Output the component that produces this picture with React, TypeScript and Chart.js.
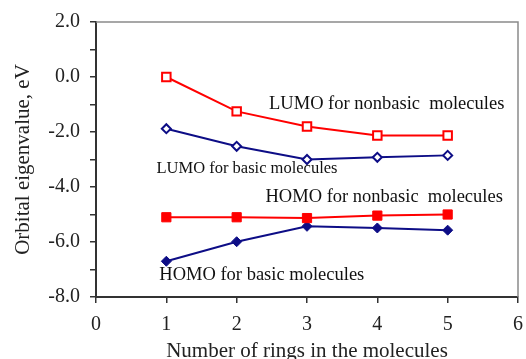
import React, { useEffect, useRef } from 'react';
import { Chart, registerables } from 'chart.js';

Chart.register(...registerables);

// Data
const rings = [1, 2, 3, 4, 5];
const lumoNonbasic = [0.0, -1.25, -1.8, -2.13, -2.13];
const lumoBasic = [-1.88, -2.52, -3.0, -2.92, -2.85];
const homoNonbasic = [-5.1, -5.1, -5.13, -5.04, -5.0];
const homoBasic = [-6.7, -5.99, -5.43, -5.49, -5.57];

const xTitle = 'Number of rings in the molecules';
const yTitle = 'Orbital eigenvalue, eV';

// Curve labels, anchored in data units (left edge, vertical middle)
const curveLabels = ['LUMO for nonbasic  molecules', 'LUMO for basic molecules', 'HOMO for nonbasic  molecules', 'HOMO for basic molecules'];
const curveLabelX = [2.46, 0.86, 2.41, 0.9];
const curveLabelY = [-0.98, -3.32, -4.37, -7.21];
const curveLabelSize = [18.5, 16.5, 18.5, 18.5];

const SERIF = '"Liberation Serif", "Times New Roman", serif';
const RED = '#ff0000';
const NAVY = '#0d0d86';

const overlayPlugin = {
  id: 'overlay',
  afterDatasetsDraw(chart: any) {
    const { ctx, chartArea, scales } = chart;
    ctx.save();
    // top / right frame
    ctx.strokeStyle = '#8a8a8a';
    ctx.lineWidth = 1.5;
    ctx.beginPath();
    ctx.moveTo(chartArea.left, chartArea.top);
    ctx.lineTo(chartArea.right, chartArea.top);
    ctx.lineTo(chartArea.right, chartArea.bottom);
    ctx.stroke();
    // curve labels
    ctx.fillStyle = '#111';
    ctx.textAlign = 'left';
    ctx.textBaseline = 'middle';
    curveLabels.forEach((t, i) => {
      ctx.font = `${curveLabelSize[i]}px ${SERIF}`;
      ctx.fillText(t, scales.x.getPixelForValue(curveLabelX[i]), scales.y.getPixelForValue(curveLabelY[i]));
    });
    ctx.restore();
  },
};

export default function App() {
  const ref = useRef<HTMLCanvasElement | null>(null);
  useEffect(() => {
    document.body.style.margin = '0';
    const toPts = (arr: number[]) => arr.map((v, i) => ({ x: rings[i], y: v }));
    const chart = new Chart(ref.current!, {
      type: 'line',
      data: {
        datasets: [
          {
            data: toPts(lumoNonbasic),
            borderColor: RED,
            borderWidth: 2,
            pointStyle: 'rect',
            pointRadius: 6,
            pointBackgroundColor: '#ffffff',
            pointBorderColor: RED,
            pointBorderWidth: 2,
          },
          {
            data: toPts(lumoBasic),
            borderColor: NAVY,
            borderWidth: 2,
            pointStyle: 'rectRot',
            pointRadius: 4.5,
            pointBackgroundColor: '#ffffff',
            pointBorderColor: NAVY,
            pointBorderWidth: 2,
          },
          {
            data: toPts(homoNonbasic),
            borderColor: RED,
            borderWidth: 2,
            pointStyle: 'rect',
            pointRadius: 6.5,
            pointBackgroundColor: RED,
            pointBorderColor: RED,
            pointBorderWidth: 1,
          },
          {
            data: toPts(homoBasic),
            borderColor: NAVY,
            borderWidth: 2,
            pointStyle: 'rectRot',
            pointRadius: 5,
            pointBackgroundColor: NAVY,
            pointBorderColor: NAVY,
            pointBorderWidth: 1,
          },
        ],
      },
      options: {
        animation: false,
        responsive: true,
        maintainAspectRatio: false,
        layout: { padding: { top: 22, right: 6, left: 0, bottom: 0 } },
        plugins: { legend: { display: false }, tooltip: { enabled: false } },
        scales: {
          x: {
            type: 'linear',
            min: 0,
            max: 6,
            afterFit: (s: any) => { s.height = 62; s.paddingRight = 0; s.paddingLeft = 0; },
            ticks: {
              stepSize: 1,
              color: '#222',
              padding: 10,
              font: { family: SERIF, size: 20 },
              callback: (v: any) => String(v),
            },
            grid: { drawOnChartArea: false, drawTicks: true, tickLength: 6, color: '#333', lineWidth: 1.5 },
            border: { display: true, color: '#333', width: 2 },
            title: {
              display: true,
              text: xTitle,
              color: '#222',
              font: { family: SERIF, size: 21, lineHeight: 1 },
              padding: { top: 0, bottom: -3 },
            },
          },
          y: {
            type: 'linear',
            min: -8,
            max: 2,
            afterFit: (s: any) => { s.width = 96; },
            ticks: {
              stepSize: 1,
              autoSkip: false,
              color: '#222',
              padding: 10,
              font: { family: SERIF, size: 20 },
              callback: (v: any) => (Math.round(v) % 2 === 0 ? Number(v).toFixed(1) : ''),
            },
            grid: { drawOnChartArea: false, drawTicks: true, tickLength: 6, color: '#333', lineWidth: 1.5 },
            border: { display: true, color: '#333', width: 2 },
            title: {
              display: true,
              text: yTitle,
              color: '#222',
              font: { family: SERIF, size: 21, lineHeight: 1.2 },
              padding: { top: 11, bottom: 0 },
            },
          },
        },
      },
      plugins: [overlayPlugin],
    });
    return () => chart.destroy();
  }, []);
  return (
    <div style={{ width: 526, height: 359, position: 'relative' }}>
      <canvas ref={ref} />
    </div>
  );
}
